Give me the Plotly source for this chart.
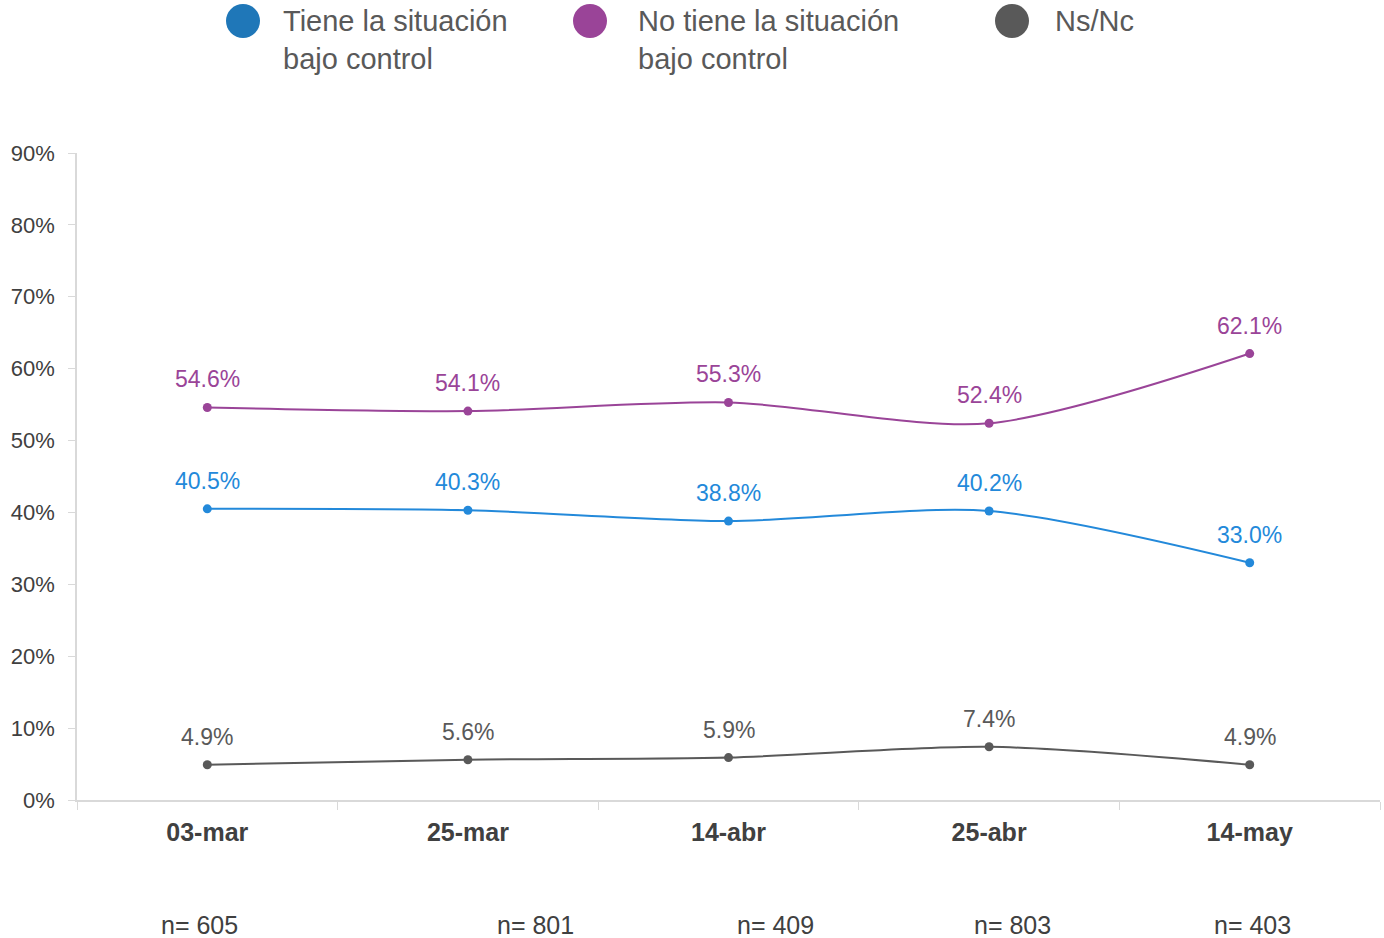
import plotly.graph_objects as go

categories = ["03-mar", "25-mar", "14-abr", "25-abr", "14-may"]
series_names = ["Tiene la situación<br>bajo control", "No tiene la situación<br>bajo control", "Ns/Nc"]
tiene = [40.5, 40.3, 38.8, 40.2, 33.0]
no_tiene = [54.6, 54.1, 55.3, 52.4, 62.1]
nsnc = [4.9, 5.6, 5.9, 7.4, 4.9]
sample_sizes = ["n= 605", "n= 801", "n= 409", "n= 803", "n= 403"]
y_ticks = [0, 10, 20, 30, 40, 50, 60, 70, 80, 90]
y_tick_labels = [f"{v}%" for v in y_ticks]

line_colors = ["#2389DA", "#9A4498", "#595959"]
legend_colors = ["#1F77B8", "#9A4498", "#595959"]
series_values = [tiene, no_tiene, nsnc]

FONT = "Arial, Liberation Sans, sans-serif"
W, H = 1384, 938
ML, MR, MT, MB = 77, 4, 153, 138
PH = H - MT - MB

def py(p):  # pixel y -> paper y
    return (H - MB - p) / PH

def px(p):  # pixel x -> paper x
    return (p - ML) / (W - ML - MR)

fig = go.Figure()
for vals, col, name in zip(series_values, line_colors, series_names):
    fig.add_trace(go.Scatter(
        x=categories, y=vals, mode="lines+markers", name=name,
        line=dict(color=col, width=2, shape="spline", smoothing=0.8),
        marker=dict(color=col, size=9), showlegend=False, hoverinfo="skip"))

annotations = []
for vals, col in zip(series_values, line_colors):
    for c, v in zip(categories, vals):
        annotations.append(dict(x=c, y=v, xref="x", yref="y", text=f"{v:.1f}%",
                                showarrow=False, yshift=28,
                                font=dict(family=FONT, size=23, color=col)))

# sample size labels (slightly offset from category centers as in original)
n_offsets = [-0.03, 0.26, 0.18, 0.09, 0.01]
for i, (s, o) in enumerate(zip(sample_sizes, n_offsets)):
    annotations.append(dict(x=i + o, y=py(925), xref="x", yref="paper", text=s,
                            showarrow=False, yanchor="middle",
                            font=dict(family=FONT, size=25, color="#404040")))

# legend
legend_cx = [243, 590, 1012]
legend_tx = [281, 636, 1053]
shapes = []
for cx, tx, col, name in zip(legend_cx, legend_tx, legend_colors, series_names):
    shapes.append(dict(type="circle", xref="paper", yref="paper",
                       xsizemode="pixel", ysizemode="pixel",
                       xanchor=px(cx), yanchor=py(21),
                       x0=-17, x1=17, y0=-17, y1=17,
                       fillcolor=col, line=dict(width=0)))
    annotations.append(dict(x=px(tx), y=py(3), xref="paper", yref="paper", text=name,
                            showarrow=False, xanchor="left", yanchor="top", align="left",
                            font=dict(family=FONT, size=29, color="#595959")))

fig.update_layout(
    width=W, height=H, margin=dict(l=ML, r=MR, t=MT, b=MB),
    plot_bgcolor="white", paper_bgcolor="white",
    font=dict(family=FONT, color="#404040"),
    annotations=annotations, shapes=shapes, showlegend=False,
    xaxis=dict(type="category", range=[-0.5, 4.5], showgrid=False,
               showline=True, linecolor="#D9D9D9", linewidth=1.5,
               ticks="outside", tickson="boundaries", ticklen=8, tickcolor="#D9D9D9",
               tickfont=dict(family=FONT, size=25, color="#404040", weight="bold"),
               ticklabelstandoff=9, zeroline=False),
    yaxis=dict(range=[0, 90], tickmode="array", tickvals=y_ticks, ticktext=y_tick_labels,
               showgrid=False,
               showline=True, linecolor="#D9D9D9", linewidth=1.5,
               ticks="outside", ticklen=7, tickcolor="#D9D9D9",
               tickfont=dict(family=FONT, size=22, color="#404040"),
               ticklabelstandoff=9, zeroline=False),
)

fig.write_html("out.html", config={"displayModeBar": False},
               post_script="document.body.style.margin='0';document.body.style.overflow='hidden';")
